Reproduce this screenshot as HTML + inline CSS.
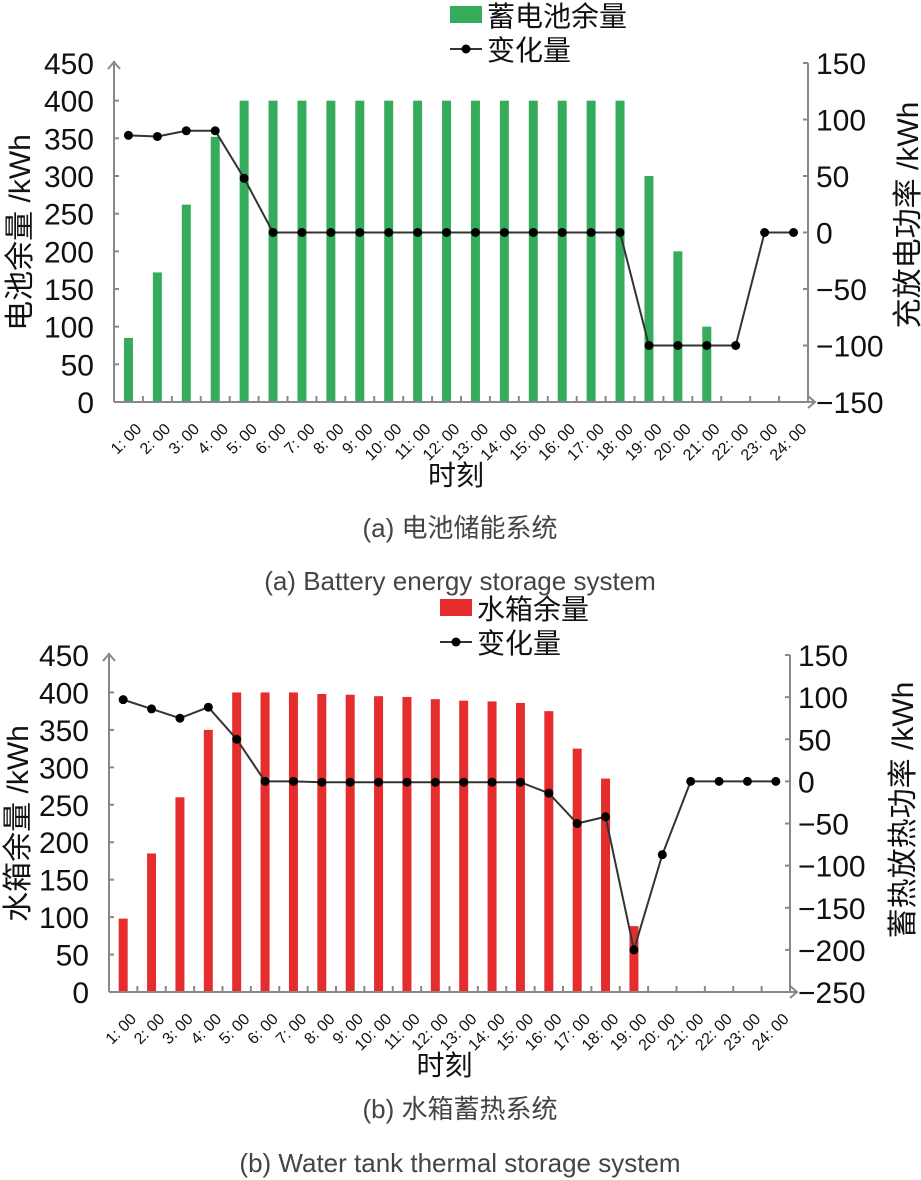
<!DOCTYPE html>
<html><head><meta charset="utf-8">
<style>
html,body{margin:0;padding:0;background:#fff;}
svg{display:block;font-family:"Liberation Sans","Noto Sans CJK SC",sans-serif;}
</style></head>
<body>
<svg id="svg" width="921" height="1180" viewBox="0 0 921 1180"></svg>
<script>
const categories = ["1: 00","2: 00","3: 00","4: 00","5: 00","6: 00","7: 00","8: 00","9: 00","10: 00","11: 00","12: 00","13: 00","14: 00","15: 00","16: 00","17: 00","18: 00","19: 00","20: 00","21: 00","22: 00","23: 00","24: 00"];
const batteryLevel = [85,172,262,352,400,400,400,400,400,400,400,400,400,400,400,400,400,400,300,200,100,0,0,0];
const batteryChange = [86,85,90,90,48,0,0,0,0,0,0,0,0,0,0,0,0,0,-100,-100,-100,-100,0,0];
const tankLevel = [98,185,260,350,400,400,400,398,397,395,394,391,389,388,386,375,325,285,88,0,0,0,0,0];
const tankChange = [97,86,75,88,50,0,0,-1,-1,-1,-1,-1,-1,-1,-1,-14,-50,-42,-200,-87,0,0,0,0];
const leftTicks = [0,50,100,150,200,250,300,350,400,450];
const rightTicksA = [150,100,50,0,-50,-100,-150];
const rightTicksB = [150,100,50,0,-50,-100,-150,-200,-250];

const NS="http://www.w3.org/2000/svg";
const svg=document.getElementById('svg');
function mk(tag,attrs,parent,text){const e=document.createElementNS(NS,tag);for(const k in attrs)e.setAttribute(k,attrs[k]);if(text!==undefined)e.textContent=text;(parent||svg).appendChild(e);return e;}

function chart(o){
  const g=mk('g',{});
  
  
  const n=categories.length, step=(o.x1-o.x0)/n;
  const yL=v=>o.yb-(v-0)/(450)*(o.yb-o.yt);
  const yR=v=>o.yb-(v-o.rmin)/(o.rmax-o.rmin)*(o.yb-o.yt);
  const xc=i=>o.x0+step*(i+0.5);
  o.level.forEach((v,i)=>{
    if(v<=0)return;
    const r=mk('rect',{x:xc(i)-4.5,y:yL(v),width:9,height:o.yb-yL(v),fill:o.color},g);
    
    
  });
  const ax=mk('g',{stroke:'#888','stroke-width':2,fill:'none'},g);
  
  
  mk('line',{x1:o.x0,y1:o.yb,x2:o.x0,y2:o.yt-2},ax);
  mk('polyline',{points:`${o.x0-6},${o.yt+6} ${o.x0},${o.yt-1} ${o.x0+6},${o.yt+6}`},ax);
  mk('line',{x1:o.x0,y1:o.yb,x2:o.x1+6,y2:o.yb},ax);
  mk('polyline',{points:`${o.x1},${o.yb-6} ${o.x1+7},${o.yb} ${o.x1},${o.yb+6}`},ax);
  mk('line',{x1:o.x1,y1:o.yb,x2:o.x1,y2:o.yt},ax);
  for(let i=1;i<n;i++)mk('line',{x1:o.x0+step*i,y1:o.yb,x2:o.x0+step*i,y2:o.yb-6},ax);
  leftTicks.forEach(v=>{
    if(v>0&&v<450)mk('line',{x1:o.x0,y1:yL(v),x2:o.x0+5,y2:yL(v)},ax);
    const t=mk('text',{x:o.x0-20,y:yL(v)+11,'text-anchor':'end','font-size':30,fill:'#111'},g,String(v));
    
    
  });
  o.rticks.forEach(v=>{
    mk('line',{x1:o.x1,y1:yR(v),x2:o.x1-5,y2:yR(v)},ax);
    const t=mk('text',{x:o.x1+8,y:yR(v)+11,'font-size':30,fill:'#111'},g,(v<0?'\u2212':'')+Math.abs(v));
    
    
  });
  categories.forEach((c,i)=>{
    const x=xc(i)+14,y=o.yb+28;
    const t=mk('text',{x:x,y:y,'text-anchor':'end','font-size':16,fill:'#111',transform:`rotate(-45 ${x} ${y})`},g,c);
    
    
  });
  const pts=o.change.map((v,i)=>xc(i)+','+yR(v)).join(' ');
  const pl=mk('polyline',{points:pts,fill:'none',stroke:'#333','stroke-width':2},g);
  
  
  o.change.forEach((v,i)=>{
    const c=mk('circle',{cx:xc(i),cy:yR(v),r:4.5,fill:'#000'},g);
    
    
  });
  const lt=mk('text',{x:0,y:0,'text-anchor':'middle','font-size':30,fill:'#111',transform:`translate(${o.ltx},${(o.yt+o.yb)/2}) rotate(-90)`},g,o.ltitle);
  
  
  const rt=mk('text',{x:0,y:0,'text-anchor':'middle','font-size':30,fill:'#111',transform:`translate(${o.rtx},${o.rty}) rotate(-90)`},g,o.rtitle);
  
  
  const xt=mk('text',{x:(o.x0+o.x1)/2-5,y:o.yb+83,'text-anchor':'middle','font-size':28,fill:'#111'},g,'时刻');
  
  
  const lg=mk('g',{},g);
  
  
  mk('rect',{x:o.lgx,y:o.lgy-9,width:32,height:17,fill:o.color},lg);
  mk('text',{x:o.lgx+37,y:o.lgy+11,'font-size':28,fill:'#111'},lg,o.lgname);
  mk('line',{x1:o.lgx,y1:o.lgy+34,x2:o.lgx+32,y2:o.lgy+34,stroke:'#333','stroke-width':2},lg);
  mk('circle',{cx:o.lgx+16,cy:o.lgy+34,r:4.5,fill:'#000'},lg);
  mk('text',{x:o.lgx+37,y:o.lgy+45,'font-size':28,fill:'#111'},lg,'变化量');
  const c1=mk('text',{x:460,y:o.cap1y,'text-anchor':'middle','font-size':26,fill:'#444'},g,o.cap1);
  
  
  const c2=mk('text',{x:460,y:o.cap2y,'text-anchor':'middle','font-size':26,fill:'#444'},g,o.cap2);
  
  
}

chart({name:'battery-chart',x0:114,x1:808,yt:63,yb:402,rmin:-150,rmax:150,rticks:rightTicksA,
  level:batteryLevel,change:batteryChange,color:'#35ac5b',ltitle:'电池余量 /kWh',rtitle:'充放电功率 /kWh',
  ltx:30,rtx:918,rty:215,lgx:450,lgy:15,lgname:'蓄电池余量',cap1:'(a) 电池储能系统',cap1y:537,cap2:'(a) Battery energy storage system',cap2y:590});
chart({name:'water-tank-chart',x0:109,x1:790,yt:655,yb:992,rmin:-250,rmax:150,rticks:rightTicksB,
  level:tankLevel,change:tankChange,color:'#e52d2d',ltitle:'水箱余量 /kWh',rtitle:'蓄热放热功率 /kWh',
  ltx:28,rtx:913,rty:810,lgx:440,lgy:608,lgname:'水箱余量',cap1:'(b) 水箱蓄热系统',cap1y:1118,cap2:'(b) Water tank thermal storage system',cap2y:1172});
</script>
</body></html>
